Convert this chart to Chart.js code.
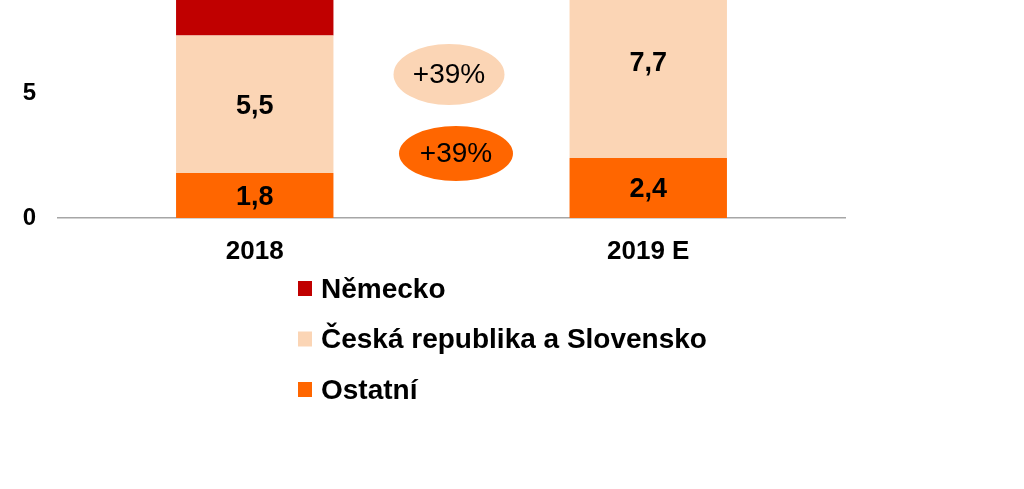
<!DOCTYPE html>
<html>
<head>
<meta charset="utf-8">
<script src="https://cdn.jsdelivr.net/npm/chart.js@4"></script>
<style>
  html,body{margin:0;padding:0;background:#fff;}
  #wrap{width:1024px;height:489px;position:relative;}
</style>
</head>
<body>
<div id="wrap"><canvas id="chart" width="1024" height="489"></canvas></div>
<script>
// data (values in the original's units)
const categories = ['2018', '2019 E'];
const ostatni = [1.8, 2.4];
const ceskoSlovensko = [5.5, 7.7];
const nemecko = [3.2, 4.6];          // cut off at the top, guessed
const yTicks = [0, 5];
const growthLabels = ['+39%', '+39%'];
const growthAt = [5.74, 2.58];       // y value of each bubble centre

const RED = '#C00000', PEACH = '#FBD5B5', ORANGE = '#FF6600';
const FONT = '"Liberation Sans", Arial, sans-serif';

function fmt(v){ return String(v).replace('.', ','); }

// value labels in the middle of each segment
const valueLabels = {
  id:'valueLabels',
  afterDatasetsDraw(chart){
    const ctx = chart.ctx, area = chart.chartArea;
    ctx.save();
    ctx.font = 'bold 27px ' + FONT;
    ctx.fillStyle = '#000';
    ctx.textAlign = 'center';
    ctx.textBaseline = 'middle';
    chart.data.datasets.forEach((ds, i) => {
      chart.getDatasetMeta(i).data.forEach((el, j) => {
        const y = (el.y + el.base) / 2;
        if (y < area.top + 10 || y > area.bottom) return;
        ctx.fillText(fmt(ds.data[j]), el.x, y + 2);
      });
    });
    ctx.restore();
  }
};

// the two growth bubbles between the bars
const bubbles = {
  id:'bubbles',
  afterDatasetsDraw(chart){
    const ctx = chart.ctx, xs = chart.scales.x, ys = chart.scales.y;
    const cx = (xs.getPixelForValue(0) + xs.getPixelForValue(1)) / 2;
    const fills = [PEACH, ORANGE];
    const rad = [[55.5, 30.5], [57, 27.5]];
    const dx = [-2.5, 4.5];
    ctx.save();
    growthLabels.forEach((t, i) => {
      const y = ys.getPixelForValue(growthAt[i]);
      ctx.beginPath();
      ctx.ellipse(cx + dx[i], y, rad[i][0], rad[i][1], 0, 0, Math.PI * 2);
      ctx.fillStyle = fills[i];
      ctx.fill();
      ctx.fillStyle = '#000';
      ctx.font = '28px ' + FONT;
      ctx.textAlign = 'center';
      ctx.textBaseline = 'middle';
      ctx.fillText(t, cx + dx[i], y + 1);
    });
    ctx.restore();
  }
};

// vertical legend under the axis, top stack item first
const sideLegend = {
  id:'sideLegend',
  afterDraw(chart){
    const ctx = chart.ctx;
    const items = chart.data.datasets.slice().reverse();
    ctx.save();
    ctx.font = 'bold 28px ' + FONT;
    ctx.textBaseline = 'middle';
    ctx.textAlign = 'left';
    items.forEach((ds, i) => {
      const y = 288 + i * 50.5;
      ctx.fillStyle = ds.backgroundColor;
      ctx.fillRect(298, y - 7, 14, 15);
      ctx.fillStyle = '#000';
      ctx.fillText(ds.label, 321, y + 2);
    });
    ctx.restore();
  }
};

new Chart(document.getElementById('chart').getContext('2d'), {
  type:'bar',
  data:{
    labels: categories,
    datasets:[
      {label:'Ostatní', data:ostatni, backgroundColor:ORANGE},
      {label:'Česká republika a Slovensko', data:ceskoSlovensko, backgroundColor:PEACH},
      {label:'Německo', data:nemecko, backgroundColor:RED}
    ]
  },
  options:{
    responsive:false,
    animation:false,
    layout:{padding:{top:0, right:179, left:0, bottom:0}},
    datasets:{bar:{barPercentage:0.4, categoryPercentage:1}},
    plugins:{legend:{display:false}, tooltip:{enabled:false}},
    scales:{
      x:{
        stacked:true,
        grid:{display:false, drawTicks:false},
        border:{display:true, color:'#A6A6A6', width:1.5},
        ticks:{color:'#000', padding:18, font:{family:FONT, size:26, weight:'bold'}},
        afterFit(s){ s.height = 271; s.paddingLeft = 0; s.paddingRight = 0; }
      },
      y:{
        stacked:true,
        min:0, max:8.72,
        grid:{display:false, drawTicks:false},
        border:{display:false},
        afterBuildTicks(s){ s.ticks = yTicks.map(v => ({value:v})); },
        ticks:{color:'#000', padding:22, font:{family:FONT, size:24, weight:'bold'}},
        afterFit(s){ s.width = 58; s.paddingTop = 0; s.paddingBottom = 0; }
      }
    }
  },
  plugins:[valueLabels, bubbles, sideLegend]
});
</script>
</body>
</html>
